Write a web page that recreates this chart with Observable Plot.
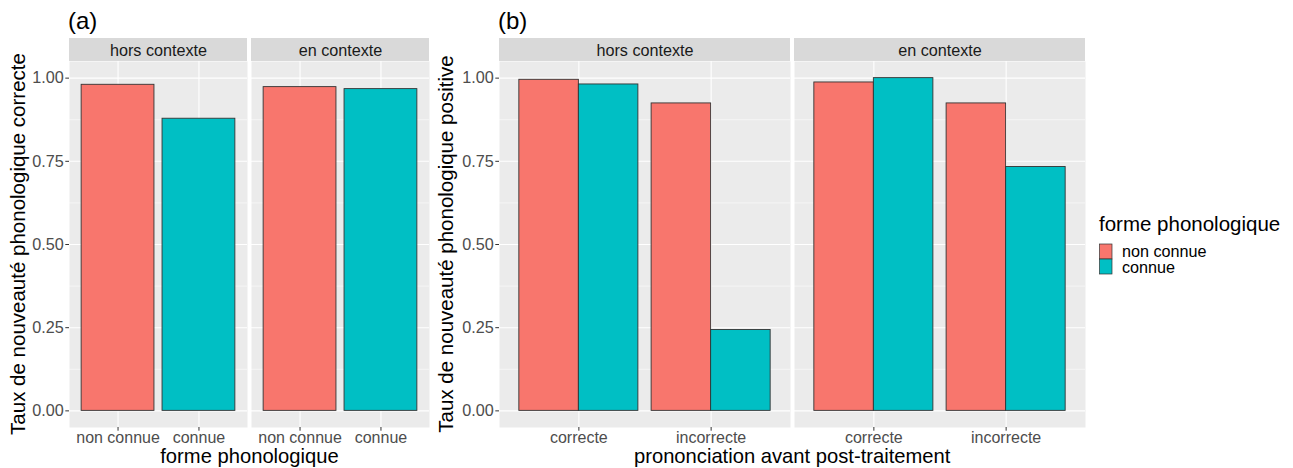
<!DOCTYPE html>
<html><head><meta charset="utf-8">
<script src="https://cdn.jsdelivr.net/npm/d3@7"></script>
<script src="https://cdn.jsdelivr.net/npm/@observablehq/plot@0.6"></script>
<style>
body{margin:0;background:#fff;}
#root{position:relative;width:1293px;height:468px;overflow:hidden;font-family:"Liberation Sans",Arial,sans-serif;background:#fff;}
#root > svg{position:absolute;}
</style></head><body><div id="root"></div>
<script>
// ---- data ----
const contexts = ["hors contexte", "en contexte"];
const formes = ["non connue", "connue"];
const prononciations = ["correcte", "incorrecte"];
// panel (a): taux by forme [non connue, connue]
const tauxA_hors = [0.980, 0.878];
const tauxA_en = [0.973, 0.967];
// panel (b): taux by prononciation [correcte, incorrecte]
const tauxB_hors_nonConnue = [0.995, 0.924];
const tauxB_hors_connue = [0.981, 0.243];
const tauxB_en_nonConnue = [0.987, 0.924];
const tauxB_en_connue = [1.000, 0.733];
const yTicks = [0, 0.25, 0.5, 0.75, 1];
const yMinor = [0.125, 0.375, 0.625, 0.875];
const colors = ["#F8766D", "#00BFC4"];
const tagA = "(a)", tagB = "(b)";
const yTitleA = "Taux de nouveauté phonologique correcte";
const yTitleB = "Taux de nouveauté phonologique positive";
const xTitleA = "forme phonologique";
const xTitleB = "prononciation avant post-traitement";
const legendTitle = "forme phonologique";

// ---- tables ----
const rowsA = [];
[tauxA_hors, tauxA_en].forEach((vals, ci) => vals.forEach((v, fi) =>
  rowsA.push({ctx: contexts[ci], forme: formes[fi], pos: fi + 1, value: v})));
const rowsB = [];
[[tauxB_hors_nonConnue, tauxB_hors_connue], [tauxB_en_nonConnue, tauxB_en_connue]].forEach((pair, ci) =>
  pair.forEach((vals, fi) => vals.forEach((v, pi) =>
    rowsB.push({ctx: contexts[ci], forme: formes[fi], pron: prononciations[pi], pos: pi + 1, side: fi, value: v}))));

const FONT = "Liberation Sans, Arial, sans-serif";
function makePanel({rows, x1, x2, tickLabels, width, marginLeft, fxPad}) {
  const H = 468, mt = 61, mb = 41;
  const stripH = 23 / ((H - mt - mb) / 1.1);
  return Plot.plot({
    width, height: H, marginLeft, marginRight: 4, marginTop: mt, marginBottom: mb,
    style: {fontFamily: FONT, background: "transparent", overflow: "visible"},
    fx: {domain: contexts, paddingInner: fxPad, paddingOuter: 0, axis: null, label: null},
    x: {domain: [0.4, 2.6]},
    y: {domain: [-0.05, 1.05]},
    color: {domain: formes, range: colors},
    marks: [
      Plot.frame({fill: "#EBEBEB"}),
      Plot.ruleY(yMinor, {stroke: "#fff", strokeWidth: 0.55}),
      Plot.ruleY(yTicks, {stroke: "#fff", strokeWidth: 1.1}),
      Plot.ruleX([1, 2], {stroke: "#fff", strokeWidth: 1.1}),
      Plot.rect(contexts, {fx: d => d, x1: 0.4, x2: 2.6, y1: 1.05, y2: 1.05 + stripH, fill: "#D9D9D9"}),
      Plot.text(contexts, {fx: d => d, x: 1.5, y: 1.05 + stripH / 2, dy: 1, text: d => d, fontSize: 16.2, fill: "#1A1A1A"}),
      Plot.rect(rows, {fx: "ctx", x1, x2, y1: 0, y2: "value", fill: "forme", stroke: "#333333", strokeWidth: 0.9}),
      Plot.axisY({ticks: yTicks, tickFormat: d3.format(".2f"), tickSize: 3.7, tickPadding: 2, fontSize: 16.2, color: "#4D4D4D", stroke: "#333333", label: null}),
      Plot.axisX({ticks: [1, 2], tickFormat: d => tickLabels[d - 1], tickSize: 3.7, tickPadding: 0, fontSize: 16, color: "#4D4D4D", stroke: "#333333", label: null})
    ]
  });
}

const root = document.getElementById("root");
const pA = makePanel({rows: rowsA, x1: d => d.pos - 0.45, x2: d => d.pos + 0.45, tickLabels: formes,
  width: 434, marginLeft: 69, fxPad: 0.0219});
pA.style.left = "0px"; pA.style.top = "0px";
root.appendChild(pA);
const pB = makePanel({rows: rowsB, x1: d => d.pos - 0.45 + 0.45 * d.side, x2: d => d.pos + 0.45 * d.side,
  tickLabels: prononciations, width: 660, marginLeft: 68.3, fxPad: 0.0145});
pB.style.left = "430px"; pB.style.top = "0px";
root.appendChild(pB);

// ---- overlay text: tags, titles, legend ----
const ns = "http://www.w3.org/2000/svg";
const ov = document.createElementNS(ns, "svg");
ov.setAttribute("width", 1293); ov.setAttribute("height", 468);
ov.style.left = "0px"; ov.style.top = "0px"; ov.style.pointerEvents = "none";
ov.style.fontFamily = FONT;
root.appendChild(ov);
function txt(s, x, y, size, opts = {}) {
  const t = document.createElementNS(ns, "text");
  t.textContent = s;
  t.setAttribute("x", x); t.setAttribute("y", y);
  t.setAttribute("font-size", size);
  t.setAttribute("fill", opts.fill || "#000");
  if (opts.anchor) t.setAttribute("text-anchor", opts.anchor);
  if (opts.rotate) t.setAttribute("transform", `rotate(-90 ${x} ${y})`);
  ov.appendChild(t);
}
txt(tagA, 68, 28.5, 24);
txt(tagB, 498, 28.5, 24);
txt(yTitleA, 24.8, 244, 20.5, {anchor: "middle", rotate: true});
txt(yTitleB, 453, 244, 20.5, {anchor: "middle", rotate: true});
txt(xTitleA, 249.5, 463, 20.2, {anchor: "middle"});
txt(xTitleB, 792.2, 463, 20.2, {anchor: "middle"});
txt(legendTitle, 1099, 231, 20.5);
formes.forEach((f, i) => {
  const r = document.createElementNS(ns, "rect");
  r.setAttribute("x", 1099.5); r.setAttribute("y", 244 + i * 15);
  r.setAttribute("width", 12.5); r.setAttribute("height", 15);
  r.setAttribute("fill", colors[i]); r.setAttribute("stroke", "#333333"); r.setAttribute("stroke-width", 0.7);
  ov.appendChild(r);
  txt(f, 1122, 257.3 + i * 15.5, 16.2);
});
</script></body></html>
